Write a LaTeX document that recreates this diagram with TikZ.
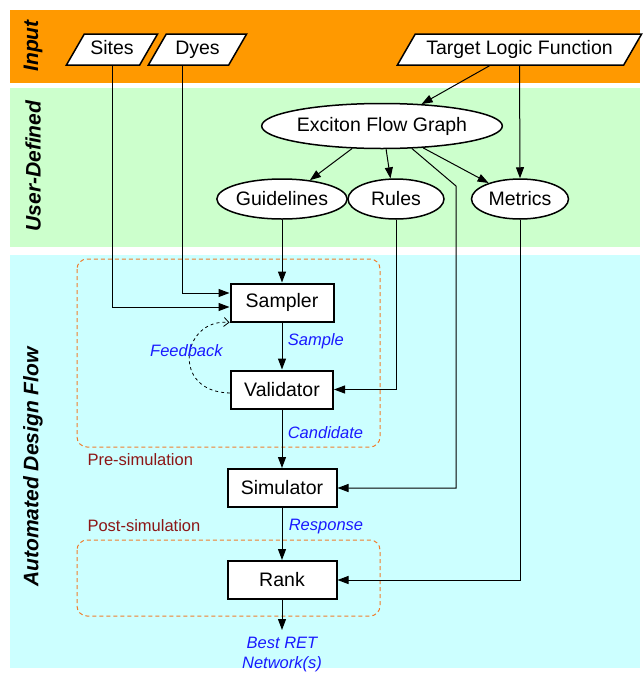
\documentclass[tikz,border=0pt]{standalone}
\usepackage{fontspec}
\setmainfont{Liberation Sans}
\usetikzlibrary{shapes.geometric,arrows.meta}

\definecolor{inband}{RGB}{255,153,0}
\definecolor{userband}{RGB}{204,255,204}
\definecolor{autoband}{RGB}{204,255,255}
\definecolor{stageline}{RGB}{240,125,45}
\definecolor{flowtext}{RGB}{25,25,255}
\definecolor{stagetext}{RGB}{140,22,22}

\tikzset{
	inbox/.style={trapezium,trapezium left angle=60,trapezium right angle=120,draw,line width=1.5pt,fill=white,
		text height=14pt,text depth=4pt,inner ysep=6.5pt,inner xsep=6pt,font=\fontsize{19.5}{23}\selectfont},
	ubox/.style={ellipse,draw,line width=1.5pt,fill=white,inner sep=0pt,minimum height=40pt,font=\fontsize{19.5}{23}\selectfont},
	fbox/.style={rectangle,draw,line width=2pt,fill=white,inner sep=0pt,minimum height=38pt,font=\fontsize{19.5}{23}\selectfont},
	band/.style={rotate=90,font=\fontsize{21}{25}\selectfont\bfseries\itshape},
	lbl/.style={text=flowtext,font=\fontsize{16.5}{20}\selectfont\itshape},
	stagelbl/.style={text=stagetext,anchor=west,font=\fontsize{16.5}{20}\selectfont},
	stage/.style={draw=stageline,line width=1pt,dash pattern=on 4pt off 3pt,rounded corners=10pt},
	arr/.style={-{Triangle[length=11pt,width=8pt]},line width=1pt},
	fb/.style={-{Straight Barb[length=5pt,width=9pt]},line width=0.8pt,dashed}
}

\begin{document}
\begin{tikzpicture}[x=1pt,y=-1pt]
	\useasboundingbox (0,0) rectangle (644,675);
	\fill[white] (0,0) rectangle (644,675);

	% bands
	\fill[inband] (10,10) rectangle (640,83);
	\fill[userband] (10,88) rectangle (640,247);
	\fill[autoband] (10,255) rectangle (640,668);
	\node[band] (tin) at (33,46) {Input};
	\node[band] (tuser) at (33,166) {User-Defined};
	\node[band] (tauto) at (33,467) {Automated Design Flow};

	% stages
	\draw[stage] (77,259) rectangle (380,447);
	\draw[stage] (77,540) rectangle (380,616);
	\node[stagelbl] (pre) at (84,460) {Pre-simulation};
	\node[stagelbl] (post) at (84,526) {Post-simulation};

	% inputs
	\node[inbox] (sites) at (112,49.5) {Sites};
	\node[inbox,inner xsep=9pt] (dyes) at (197.5,49.5) {Dyes};
	\node[inbox,inner xsep=11pt] (target) at (519.5,49.5) {Target Logic Function};

	% user-defined
	\node[ubox,minimum width=235pt,minimum height=45pt] (efg) at (382,126) {Exciton Flow Graph};
	\node[ubox,minimum width=122pt] (guide) at (282,199) {Guidelines};
	\node[ubox,minimum width=96pt] (rules) at (396,199) {Rules};
	\node[ubox,minimum width=97pt] (metrics) at (520,199) {Metrics};

	% flow
	\node[fbox,minimum width=103pt] (sampler) at (282,302.5) {Sampler};
	\node[fbox,minimum width=102pt] (valid) at (282,389.5) {Validator};
	\node[fbox,minimum width=109pt] (sim) at (282,488) {Simulator};
	\node[fbox,minimum width=109pt] (rank) at (282,580) {Rank};
	\coordinate (bend) at (456,186);
	\coordinate (out) at (282,630);

	\path[arr,draw] ([xshift=-30pt]target.south) -- (efg.29);
	\path[arr,draw] (target.south) -- (metrics.north);
	\path[arr,draw] (efg.217) -- (guide.34);
	\path[arr,draw] (efg.280) -- (rules.105);
	\path[arr,draw] (efg.332) -- (metrics.153);

	\path[arr,draw] (sites.south) |- ([yshift=-4.5pt]sampler.west);
	\path[arr,draw] ([xshift=-15.5pt]dyes.south) |- ([yshift=9.5pt]sampler.west);
	\path[arr,draw] (guide.south) -- (sampler.north);
	\path[arr,draw] (rules.south) |- (valid.east);
	\path[arr,draw] (efg.323) -- (bend) |- (sim.east);
	\path[arr,draw] (metrics.south) |- (rank.east);

	\path[arr,draw] (sampler) -- node[lbl,pos=0.4,right,xshift=2pt] {Sample} (valid);
	\path[arr,draw] (valid) -- node[lbl,pos=0.4,right,xshift=2pt] {Candidate} (sim);
	\path[arr,draw] (sim) -- node[lbl,pos=0.36,right,xshift=3pt] {Response} (rank);
	\path[arr,draw] (rank) -- (out) node[lbl,below,align=center,inner sep=1pt,yshift=-6pt] {Best RET\\Network(s)};
	\draw[fb] ([yshift=-3.5pt]valid.west) .. controls (170,392) and (182,318) .. (sampler.south west)
		node[lbl,pos=0.5,xshift=-3pt,yshift=5pt] {Feedback};
\end{tikzpicture}
\end{document}
